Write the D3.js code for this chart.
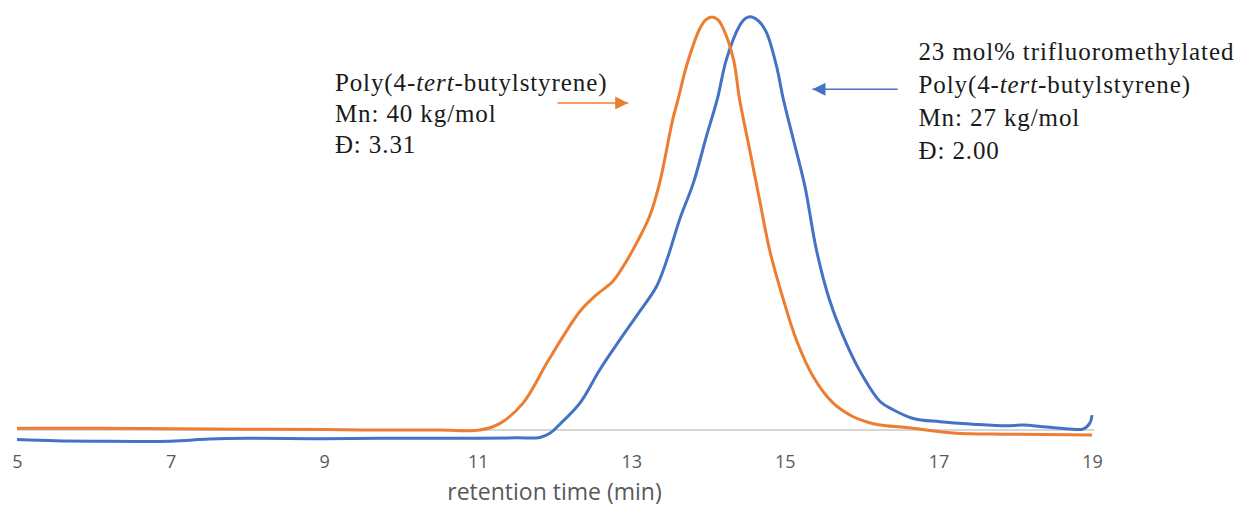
<!DOCTYPE html>
<html>
<head>
<meta charset="utf-8">
<script src="https://cdn.jsdelivr.net/npm/d3@7"></script>
<style>
  body { margin: 0; background: #fff; }
  svg { display: block; }
</style>
</head>
<body>
<div id="chart"></div>
<script>
// x ticks
const xTicks = [5, 7, 9, 11, 13, 15, 17, 19];

// Poly(4-tert-butylstyrene) trace (orange), normalized detector signal
const timeOrange = [5.0, 6.0, 7.0, 8.0, 9.0, 9.5, 10.5, 11.03, 11.29, 11.59, 11.90, 12.11, 12.33, 12.55, 12.76, 12.94, 13.07, 13.24, 13.37, 13.54, 13.61, 13.72, 13.89, 13.97, 14.05, 14.13, 14.20, 14.33, 14.41, 14.54, 14.67, 14.80, 14.98, 15.15, 15.37, 15.63, 15.89, 16.06, 16.24, 16.58, 17.19, 17.89, 19.0];
const signalOrange = [0.004, 0.004, 0.003, 0.002, 0.001, 0.0, 0.0, 0.0, 0.016, 0.065, 0.162, 0.226, 0.287, 0.328, 0.360, 0.41, 0.453, 0.518, 0.599, 0.752, 0.801, 0.882, 0.971, 0.993, 1.0, 0.993, 0.971, 0.898, 0.801, 0.68, 0.558, 0.437, 0.316, 0.218, 0.129, 0.065, 0.032, 0.020, 0.012, 0.006, -0.007, -0.010, -0.012];

// 23 mol% trifluoromethylated trace (blue)
const timeBlue = [5.0, 5.5, 6.0, 7.0, 7.5, 8.0, 9.0, 10.0, 11.0, 11.5, 11.81, 11.94, 12.07, 12.33, 12.59, 12.85, 13.11, 13.33, 13.48, 13.63, 13.81, 13.98, 14.12, 14.24, 14.41, 14.49, 14.57, 14.66, 14.76, 14.89, 14.98, 15.11, 15.26, 15.41, 15.58, 15.80, 16.02, 16.24, 16.41, 16.67, 17.02, 17.45, 17.89, 18.10, 18.41, 18.75, 18.88, 18.97, 19.0];
const signalBlue = [-0.023, -0.026, -0.027, -0.027, -0.022, -0.020, -0.021, -0.020, -0.020, -0.019, -0.018, -0.008, 0.014, 0.065, 0.146, 0.218, 0.287, 0.348, 0.421, 0.510, 0.599, 0.712, 0.801, 0.898, 0.979, 0.997, 1.0, 0.99, 0.963, 0.882, 0.801, 0.704, 0.591, 0.437, 0.316, 0.210, 0.129, 0.069, 0.049, 0.028, 0.020, 0.014, 0.010, 0.012, 0.007, 0.002, 0.002, 0.016, 0.036];

// annotation text
const labelOrange = [["Poly(4-", "tert", "-butylstyrene)"], ["Mn: 40 kg/mol"], ["Đ: 3.31"]];
const labelBlue = [["23 mol% trifluoromethylated"], ["Poly(4-", "tert", "-butylstyrene)"], ["Mn: 27 kg/mol"], ["Đ: 2.00"]];

const width = 1254, height = 508;
const orange = "#ED7D31", blue = "#4472C4";

const svg = d3.select("#chart").append("svg")
  .attr("width", width)
  .attr("height", height);

const x = d3.scaleLinear().domain([5, 19]).range([17, 1092]);
const y = d3.scaleLinear().domain([0, 1]).range([430, 17]);

// zero line
svg.append("line")
  .attr("x1", x(5)).attr("x2", x(19) + 2)
  .attr("y1", y(0)).attr("y2", y(0))
  .attr("stroke", "#c8c8c8")
  .attr("stroke-width", 1.6);

// x axis (labels only)
const xAxis = d3.axisBottom(x).tickValues(xTicks).tickSize(0).tickPadding(0).tickFormat(d3.format("d"));
const gx = svg.append("g")
  .attr("transform", `translate(0, 455)`)
  .call(xAxis);
gx.select(".domain").remove();
gx.selectAll("text")
  .attr("dy", "0.71em")
  .style("font-family", "'Open Sans', sans-serif")
  .style("font-size", "18px")
  .attr("fill", "#595959");

svg.append("text")
  .attr("x", x(12))
  .attr("y", 500)
  .attr("text-anchor", "middle")
  .style("font-family", "'Open Sans', sans-serif")
  .style("font-size", "23px")
  .attr("fill", "#595959")
  .text("retention time (min)");

const line = d3.line()
  .x(d => x(d[0]))
  .y(d => y(d[1]))
  .curve(d3.curveCatmullRom.alpha(0.5));

svg.append("path")
  .datum(d3.zip(timeBlue, signalBlue))
  .attr("fill", "none")
  .attr("stroke", blue)
  .attr("stroke-width", 3)
  .attr("d", line);

svg.append("path")
  .datum(d3.zip(timeOrange, signalOrange))
  .attr("fill", "none")
  .attr("stroke", orange)
  .attr("stroke-width", 3)
  .attr("d", line);

// arrows
const defs = svg.append("defs");
[["head-orange", orange], ["head-blue", blue]].forEach(([id, c]) => {
  defs.append("marker")
    .attr("id", id)
    .attr("viewBox", "0 0 10 10")
    .attr("refX", 10).attr("refY", 5)
    .attr("markerUnits", "userSpaceOnUse")
    .attr("markerWidth", 15).attr("markerHeight", 13)
    .attr("orient", "auto")
    .append("path")
    .attr("d", "M0,0 L10,5 L0,10 Z")
    .attr("fill", c);
});

svg.append("line")
  .attr("x1", x(12.04)).attr("y1", y(0.792))
  .attr("x2", x(12.96)).attr("y2", y(0.792))
  .attr("stroke", orange).attr("stroke-width", 1.5)
  .attr("marker-end", "url(#head-orange)");

svg.append("line")
  .attr("x1", x(16.47)).attr("y1", y(0.825))
  .attr("x2", x(15.36)).attr("y2", y(0.825))
  .attr("stroke", blue).attr("stroke-width", 1.5)
  .attr("marker-end", "url(#head-blue)");

function textBlock(lines, tx, ty, step) {
  const t = svg.append("text")
    .attr("x", x(tx))
    .attr("y", ty)
    .style("font-family", "'Liberation Serif', 'Times New Roman', serif")
    .style("font-size", "25px")
    .style("letter-spacing", "0.9px")
    .attr("fill", "#1a1a1a");
  lines.forEach((parts, i) => {
    parts.forEach((p, j) => {
      const s = t.append("tspan").text(p);
      if (j === 0) s.attr("x", x(tx)).attr("y", ty + i * step);
      if (p === "tert") s.style("font-style", "italic");
    });
  });
}

textBlock(labelOrange, 9.14, 91, 31);
textBlock(labelBlue, 16.74, 60, 33);
</script>
</body>
</html>
